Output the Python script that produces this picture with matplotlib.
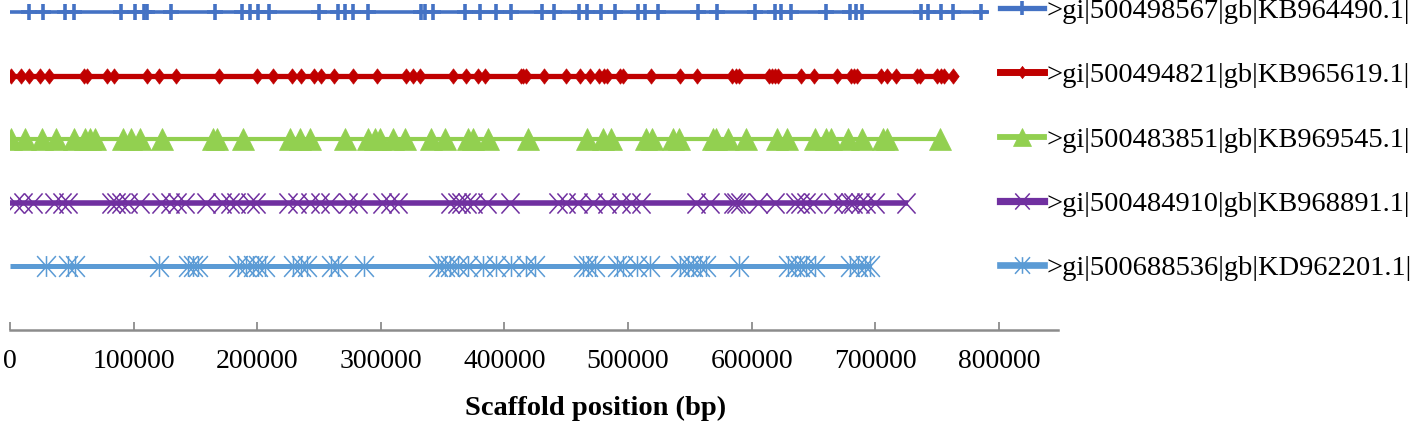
import matplotlib
matplotlib.use("Agg")
import matplotlib.pyplot as plt
from matplotlib.path import Path
from matplotlib.lines import Line2D

# ---------------- data ----------------
labels = [">gi|500498567|gb|KB964490.1|",
          ">gi|500494821|gb|KB965619.1|",
          ">gi|500483851|gb|KB969545.1|",
          ">gi|500484910|gb|KB968891.1|",
          ">gi|500688536|gb|KD962201.1|"]
rows = [5, 4, 3, 2, 1]
lengths = [791000, 763000, 752300, 726400, 695700]

pos1 = [15450, 26780, 44900, 51600, 89640, 100970, 108250, 110440, 130660, 165700,
        187300, 194000, 200730, 209630, 249840, 265450, 270870, 277590, 289720, 332930,
        335600, 342320, 367960, 380100, 393610, 405740, 430020, 439970, 460440, 466430,
        478560, 489320, 508170, 513590, 524350, 556710, 572090, 602590, 618770, 624190,
        632280, 660600, 679450, 684870, 688920, 737460, 742800, 753640, 763030, 786000]
pos2 = [500, 8500, 15450, 24110, 31390, 59710, 62380, 78560, 84220, 110440, 120630,
        134140, 168930, 199920, 212380, 228240, 235840, 246030, 251460, 262220, 277590,
        297010, 320230, 326130, 332120, 358500, 368530, 378240, 384140, 413030, 415130,
        417310, 431880, 449680, 461570, 469090, 476620, 480420, 483090, 493930, 496040,
        518450, 541910, 556230, 584220, 587780, 589640, 614160, 616590, 618770, 621440,
        640370, 650570, 669170, 680020, 682690, 685350, 705100, 709630, 717230, 733900,
        736650, 749600, 753640, 755500, 763030]
pos3 = [1210, 11970, 26290, 37060, 51620, 60520, 64560, 68610, 91500, 98300, 105020,
        123060, 164320, 167560, 188110, 226380, 234470, 242560, 270870, 289720, 295150,
        299190, 309950, 319420, 341020, 351780, 370630, 374680, 386810, 419170, 466430,
        479850, 486650, 514400, 519820, 536490, 541340, 568850, 571600, 580990, 595310,
        620150, 628240, 651130, 660600, 664640, 678070, 689720, 706390, 709630, 752270]
pos4 = [3880, 10600, 18690, 35440, 41670, 47010, 82120, 86160, 90210, 95550, 105020,
        122570, 129290, 134710, 141420, 158980, 171120, 177830, 183250, 194010, 199430,
        225000, 231800, 242560, 250650, 258740, 273540, 281640, 300570, 307280, 314000,
        355830, 361250, 365290, 369340, 374680, 385520, 404370, 443450, 450240, 459630,
        471760, 482610, 494740, 502830, 510920, 555420, 566180, 585030, 587780, 590450,
        605260, 618770, 634950, 639000, 644420, 649760, 665940, 674030, 679450, 682120,
        687540, 692960, 699680, 725320]
pos5 = [29530, 47010, 52430, 120630, 144090, 148140, 152180, 184550, 191340, 196680,
        200730, 206150, 229050, 235840, 239890, 260110, 265450, 286250, 346360, 351780,
        355830, 362540, 370630, 382770, 393610, 405740, 417880, 424600, 463670, 467720,
        473140, 490700, 496040, 506880, 517640, 541910, 548620, 552670, 558090, 563510,
        589640, 629530, 634950, 639000, 644420, 651130, 679450, 686240, 691670, 695710]
positions = [pos1, pos2, pos3, pos4, pos5]

xticks = [0, 100000, 200000, 300000, 400000, 500000, 600000, 700000, 800000]
xlabel = "Scaffold position (bp)"

# ---------------- styles ----------------
M, L, C = Path.MOVETO, Path.LINETO, Path.CLOSEPOLY
diamond = Path([(0, 1), (0.75, 0), (0, -1), (-0.75, 0), (0, 1)], [M, L, L, L, C])
xmark = Path([(-0.9, -1), (0.9, 1), (-0.9, 1), (0.9, -1)], [M, L, M, L])
star = Path([(-0.9, -1), (0.9, 1), (-0.9, 1), (0.9, -1), (0, -1), (0, 1)],
            [M, L, M, L, M, L])

styles = [
    dict(color="#4472C4", lw=2.6, marker="+", ms=12, mew=2.6, mfc="#4472C4"),
    dict(color="#C00000", lw=3.8, marker=diamond, ms=11, mew=0.5, mfc="#C00000"),
    dict(color="#92D050", lw=3.0, marker="^", ms=15.5, mew=0.5, mfc="#92D050"),
    dict(color="#7030A0", lw=4.0, marker=xmark, ms=14.5, mew=1.1, mfc="none"),
    dict(color="#5B9BD5", lw=3.6, marker=star, ms=15.0, mew=1.1, mfc="none"),
]

serif = "Liberation Serif"
fig = plt.figure(figsize=(14.18, 4.25), dpi=100)
ax = fig.add_axes([10 / 1418, 95 / 425, 1048 / 1418, 330 / 425])

handles = []
for y, length, pos, st in zip(rows, lengths, positions, styles):
    ax.plot([0, length], [y, y], color=st["color"], lw=st["lw"],
            solid_capstyle="butt", zorder=2)
    ax.plot(pos, [y] * len(pos), linestyle="none", marker=st["marker"],
            ms=st["ms"], mew=st["mew"], mec=st["color"], mfc=st["mfc"], zorder=3)
    handles.append(Line2D([], [], color=st["color"], lw=st["lw"] + 1.2,
                          marker=st["marker"], ms=st["ms"] * 0.8, mew=st["mew"],
                          mec=st["color"], mfc=st["mfc"]))

ax.set_xlim(0, 847900)
ax.set_ylim(0, 5.19)
ax.set_yticks([])
for s in ["top", "right", "left"]:
    ax.spines[s].set_visible(False)
ax.spines["bottom"].set_color("#8C8C8C")
ax.spines["bottom"].set_linewidth(1.8)
ax.set_xticks(xticks)
ax.set_xticklabels([str(t) for t in xticks], fontfamily=serif, fontsize=20)
ax.tick_params(axis="x", direction="in", length=6, width=1.3, color="#8C8C8C",
               pad=14, labelcolor="black")
ax.set_xlabel(xlabel, fontfamily=serif, fontsize=20.5, fontweight="bold")
ax.xaxis.set_label_coords(0.5585, -0.2)

fig.legend(handles, labels, loc="upper left",
           bbox_to_anchor=(1000 / 1418, 1 + 2 / 425), frameon=False,
           prop={"family": serif, "size": 20.5}, handlelength=1.55,
           handletextpad=0.1, labelspacing=1.35, borderpad=0, borderaxespad=0,
           numpoints=1)

fig.savefig("out.png", dpi=100, facecolor="white")
